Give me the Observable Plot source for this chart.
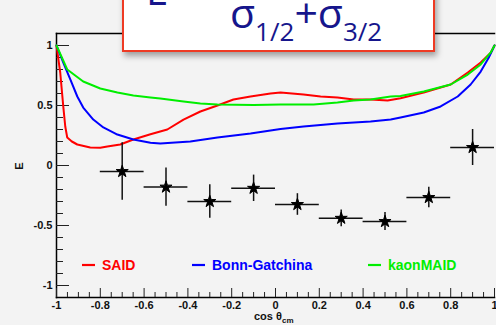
<!DOCTYPE html>
<html>
<head>
<meta charset="utf-8">
<script src="https://cdn.jsdelivr.net/npm/d3@7"></script>
<script src="https://cdn.jsdelivr.net/npm/@observablehq/plot@0.6"></script>
<style>
  html, body { margin: 0; padding: 0; background: #f3f3f3; overflow: hidden; }
  #wrap { position: relative; width: 496px; height: 325px; }
  #wrap > svg { position: absolute; left: 0; top: 0; }
  #titlebox {
    position: absolute; left: 122px; top: -50px; width: 313px; height: 102px;
    box-sizing: border-box; background: #fff; border: 2px solid #ee3b24;
    box-shadow: 2px 4px 6px rgba(0,0,0,0.35);
  }
  #overlay { pointer-events: none; }
</style>
</head>
<body>
<div id="wrap"><div id="titlebox"></div></div>
<script>
// Measured beam-helicity asymmetry E versus cos(theta_cm)
const pointCos = [-0.7, -0.5, -0.3, -0.1, 0.1, 0.3, 0.5, 0.7, 0.9];
const pointE   = [-0.05, -0.18, -0.30, -0.19, -0.325, -0.44, -0.467, -0.267, 0.15];
const pointErr = [0.24, 0.16, 0.14, 0.11, 0.09, 0.07, 0.075, 0.085, 0.15];
const binHalfWidth = 0.1;

// Model predictions
const saidCos = [-1, -0.983, -0.969, -0.96, -0.951, -0.93, -0.905, -0.846, -0.8, -0.768, -0.709, -0.649, -0.571, -0.494, -0.42, -0.343, -0.265, -0.192, -0.114, -0.023, 0.023, 0.128, 0.206, 0.283, 0.357, 0.434, 0.512, 0.571, 0.677, 0.8, 0.878, 0.937, 0.983, 1];
const saidE   = [1, 0.775, 0.49, 0.325, 0.233, 0.2, 0.175, 0.15, 0.148, 0.158, 0.175, 0.217, 0.26, 0.3, 0.383, 0.45, 0.5, 0.55, 0.575, 0.6, 0.608, 0.592, 0.575, 0.567, 0.55, 0.55, 0.542, 0.56, 0.608, 0.675, 0.775, 0.858, 0.94, 1];

const bonnCos = [-1, -0.969, -0.937, -0.905, -0.878, -0.832, -0.786, -0.722, -0.649, -0.571, -0.526, -0.389, -0.265, -0.114, 0.023, 0.128, 0.283, 0.434, 0.526, 0.571, 0.677, 0.754, 0.832, 0.891, 0.937, 0.974, 1];
const bonnE   = [1, 0.858, 0.717, 0.575, 0.483, 0.383, 0.317, 0.258, 0.217, 0.19, 0.183, 0.2, 0.233, 0.267, 0.305, 0.325, 0.35, 0.367, 0.383, 0.4, 0.442, 0.492, 0.575, 0.675, 0.783, 0.9, 1];

const maidCos = [-1, -0.951, -0.878, -0.8, -0.722, -0.649, -0.571, -0.526, -0.42, -0.343, -0.265, -0.1, 0.023, 0.174, 0.283, 0.357, 0.434, 0.526, 0.571, 0.677, 0.8, 0.878, 0.937, 0.983, 1];
const maidE   = [1, 0.8, 0.7, 0.642, 0.608, 0.583, 0.567, 0.558, 0.533, 0.517, 0.508, 0.505, 0.508, 0.508, 0.525, 0.542, 0.55, 0.575, 0.58, 0.617, 0.675, 0.758, 0.842, 0.942, 1];

const seriesNames  = ["SAID", "Bonn-Gatchina", "kaonMAID"];
const seriesColors = ["#ff0000", "#0000ff", "#00ee00"];

// Axis ticks
const yMajor = [-1, -0.5, 0, 0.5, 1];
const yMinor = d3.range(-10, 11).map(i => i / 10).filter(v => !yMajor.includes(v));
const xMajor = [-1, -0.8, -0.6, -0.4, -0.2, 0, 0.2, 0.4, 0.6, 0.8, 1];
const xMinor = d3.range(-20, 21).map(i => i / 20).filter(v => !xMajor.some(m => Math.abs(m - v) < 1e-9));
const fmt = d => (Math.abs(d) < 1e-9 ? "0" : String(+d.toFixed(1)));

const points = pointCos.map((c, i) => ({cos: c, E: pointE[i], err: pointErr[i]}));
const curves = [
  ...saidCos.map((c, i) => ({model: seriesNames[0], cos: c, E: saidE[i]})),
  ...bonnCos.map((c, i) => ({model: seriesNames[1], cos: c, E: bonnE[i]})),
  ...maidCos.map((c, i) => ({model: seriesNames[2], cos: c, E: maidE[i]}))
];

const font = "'Liberation Sans', Arial, Helvetica, sans-serif";

const chart = Plot.plot({
  width: 496,
  height: 325,
  marginLeft: 56,
  marginRight: 2,
  marginTop: 33,
  marginBottom: 28,
  style: {background: "transparent", fontFamily: font, fontWeight: "bold", fontSize: "11px", color: "#111"},
  x: {domain: [-1, 1]},
  y: {domain: [-1.1, 1.1]},
  color: {domain: seriesNames, range: seriesColors},
  marks: [
    Plot.frame({anchor: "top", stroke: "#000", strokeWidth: 1.5}),
    Plot.frame({anchor: "left", stroke: "#000", strokeWidth: 1.5}),
    Plot.frame({anchor: "bottom", stroke: "#000", strokeWidth: 1.5}),
    Plot.axisY({ticks: yMajor, tickSize: 0, tickPadding: 4, tickFormat: fmt, label: null}),
    Plot.axisY({ticks: yMajor, tickSize: -13, fill: "none", stroke: "#222", label: null}),
    Plot.axisY({ticks: yMinor, tickSize: -7, fill: "none", stroke: "#222", label: null}),
    Plot.axisX({ticks: xMajor, tickSize: 0, tickPadding: 4, tickFormat: fmt, label: null}),
    Plot.axisX({ticks: xMajor, tickSize: -9, fill: "none", stroke: "#222", label: null}),
    Plot.axisX({ticks: xMinor, tickSize: -5, fill: "none", stroke: "#222", label: null}),
    Plot.line(curves, {x: "cos", y: "E", z: "model", stroke: "model", strokeWidth: 2}),
    Plot.ruleY(points, {y: "E", x1: d => d.cos - binHalfWidth, x2: d => d.cos + binHalfWidth, stroke: "#111", strokeWidth: 1.5}),
    Plot.ruleX(points, {x: "cos", y1: d => d.E - d.err, y2: d => d.E + d.err, stroke: "#111", strokeWidth: 1.5}),
    Plot.dot(points, {x: "cos", y: "E", symbol: "star", fill: "#000", stroke: "#000", strokeWidth: 1, r: 3.8})
  ]
});

const wrap = document.getElementById("wrap");
wrap.insertBefore(chart, wrap.firstChild);

// Text drawn over the chart: axis titles, legend and the asymmetry formula
const ov = d3.select(wrap).append("svg")
  .attr("id", "overlay")
  .attr("width", 496).attr("height", 325)
  .style("overflow", "hidden")
  .attr("font-family", font).attr("font-weight", "bold");

ov.append("text").attr("transform", "translate(23,166) rotate(-90)")
  .attr("text-anchor", "middle").attr("font-size", 11).attr("fill", "#111").text("E");

const xl = ov.append("text").attr("x", 254).attr("y", 320).attr("font-size", 11).attr("fill", "#111");
xl.append("tspan").text("cos θ");
xl.append("tspan").attr("font-size", 8).attr("dy", 3).text("cm");

const legendX = [82, 192, 368];
seriesNames.forEach((name, i) => {
  ov.append("line").attr("x1", legendX[i]).attr("x2", legendX[i] + 13)
    .attr("y1", 265).attr("y2", 265).attr("stroke", seriesColors[i]).attr("stroke-width", 2.2);
  ov.append("text").attr("x", legendX[i] + 20).attr("y", 270).attr("font-size", 14)
    .attr("fill", seriesColors[i]).text(name);
});

// E = (σ1/2 − σ3/2) / (σ1/2 + σ3/2), top part above the window edge
const ff = ov.append("g").attr("font-family", "'Open Sans', 'Noto Sans', sans-serif")
  .attr("font-weight", "normal").attr("fill", "#16168c");
ff.append("text").attr("x", 146).attr("y", 5).attr("font-size", 40).text("E");
ff.append("text").attr("x", 176).attr("y", -2).attr("font-size", 40).text("=");
ff.append("line").attr("x1", 226).attr("x2", 414).attr("y1", -12).attr("y2", -12)
  .attr("stroke", "#16168c").attr("stroke-width", 2.5);
function fraction(y, op) {
  const t = ff.append("text").attr("x", 230).attr("y", y).attr("font-size", 41);
  t.append("tspan").text("σ");
  t.append("tspan").attr("font-size", 26).attr("dy", 13).text("1/2");
  t.append("tspan").attr("dy", -13).text(op + "σ");
  t.append("tspan").attr("font-size", 26).attr("dy", 13).text("3/2");
}
fraction(-34, "−");
fraction(28, "+");
</script>
</body>
</html>
